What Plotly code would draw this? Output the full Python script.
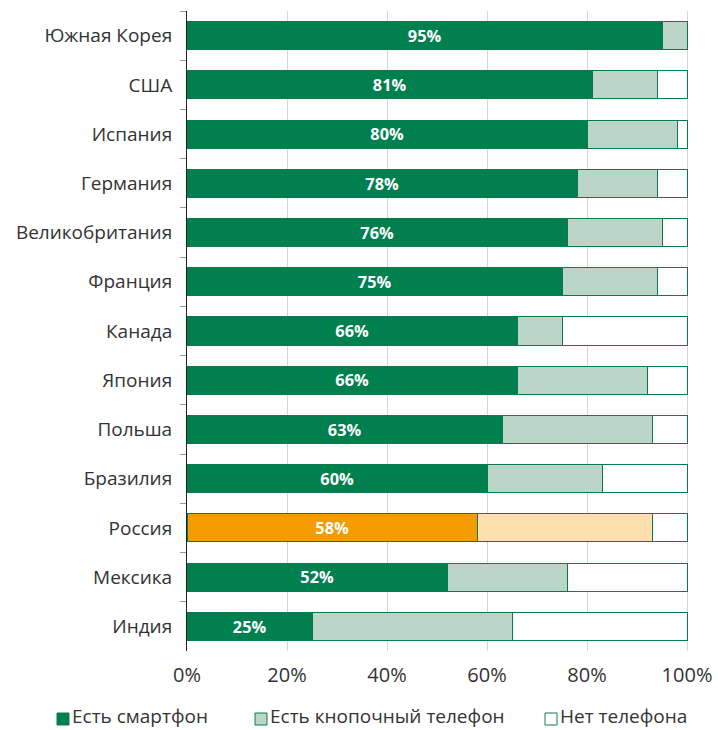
import plotly.graph_objects as go

countries = ["Южная Корея", "США", "Испания", "Германия", "Великобритания", "Франция",
             "Канада", "Япония", "Польша", "Бразилия", "Россия", "Мексика", "Индия"]
smartphone = [95, 81, 80, 78, 76, 75, 66, 66, 63, 60, 58, 52, 25]
feature_phone = [5, 13, 18, 16, 19, 19, 9, 26, 30, 23, 35, 24, 40]
no_phone = [100 - s - f for s, f in zip(smartphone, feature_phone)]
series_names = ["Есть смартфон", "Есть кнопочный телефон", "Нет телефона"]

highlight = "Россия"
DARK = "#007F4F"
LIGHT = "#BBD6C8"
ORANGE = "#F59C00"
LIGHT_ORANGE = "#FDDFB0"
EDGE = "#0B7A4B"
TEXT = "#333333"
FONT = "Open Sans"

dark_colors = [ORANGE if c == highlight else DARK for c in countries]
light_colors = [LIGHT_ORANGE if c == highlight else LIGHT for c in countries]

W, H = 718, 730
M = dict(l=187, r=29, t=11, b=79, autoexpand=False)
plot_w = W - M["l"] - M["r"]
plot_h = H - M["t"] - M["b"]
# a little room past 100% so the right outline of the bars is not clipped
x_max = 100.4

fig = go.Figure()
fig.add_trace(go.Bar(
    y=countries, x=smartphone, orientation="h", name=series_names[0],
    marker=dict(color=dark_colors, line=dict(color=EDGE, width=1)),
    text=[f"{v}%" for v in smartphone], textposition="inside",
    insidetextanchor="middle",
    textfont=dict(color="white", size=17, family=FONT, weight="bold"),
    hoverinfo="skip",
))
fig.add_trace(go.Bar(
    y=countries, x=feature_phone, orientation="h", name=series_names[1],
    marker=dict(color=light_colors, line=dict(color=EDGE, width=1)),
    hoverinfo="skip",
))
fig.add_trace(go.Bar(
    y=countries, x=no_phone, orientation="h", name=series_names[2],
    marker=dict(color="white", line=dict(color=EDGE, width=1)),
    hoverinfo="skip",
))

# Legend row below the axis: small squares followed by labels
legend_fill = [DARK, LIGHT, "white"]
legend_x_px = [57, 255, 545]
legend_y_px = 719
box = 12


def px_to_paper_x(px):
    return (px - M["l"]) / plot_w


def px_to_paper_y(py):
    return (H - M["b"] - py) / plot_h


for name, fill, x0 in zip(series_names, legend_fill, legend_x_px):
    fig.add_shape(
        type="rect", xref="paper", yref="paper",
        x0=px_to_paper_x(x0), x1=px_to_paper_x(x0 + box),
        y0=px_to_paper_y(legend_y_px + box / 2), y1=px_to_paper_y(legend_y_px - box / 2),
        fillcolor=fill, line=dict(color=EDGE, width=1),
    )
    fig.add_annotation(
        xref="paper", yref="paper",
        x=px_to_paper_x(x0 + box + 2), y=px_to_paper_y(legend_y_px - 3),
        xanchor="left", yanchor="middle", showarrow=False, borderpad=0,
        text=name, font=dict(size=19, color=TEXT, family=FONT),
    )

fig.update_layout(
    barmode="stack",
    bargap=0.43,
    width=W, height=H,
    margin=M,
    showlegend=False,
    plot_bgcolor="white", paper_bgcolor="white",
    font=dict(family=FONT, color=TEXT, size=19),
    xaxis=dict(
        range=[0, x_max], tickvals=[0, 20, 40, 60, 80, 100],
        ticktext=["0%", "20%", "40%", "60%", "80%", "100%"],
        showgrid=True, gridcolor="#D4D4D4", gridwidth=1,
        zeroline=False, showline=False, automargin=False,
        tickfont=dict(size=20, color=TEXT), ticks="", ticklabelstandoff=10,
    ),
    yaxis=dict(
        categoryorder="array", categoryarray=countries, autorange="reversed",
        showline=True, linecolor="#222222", linewidth=1, automargin=False,
        ticks="outside", tickson="boundaries", ticklen=6, tickcolor="#999999",
        tickfont=dict(size=19, color=TEXT), showgrid=False,
        ticklabelstandoff=10,
    ),
)

fig.write_html("out.html")
